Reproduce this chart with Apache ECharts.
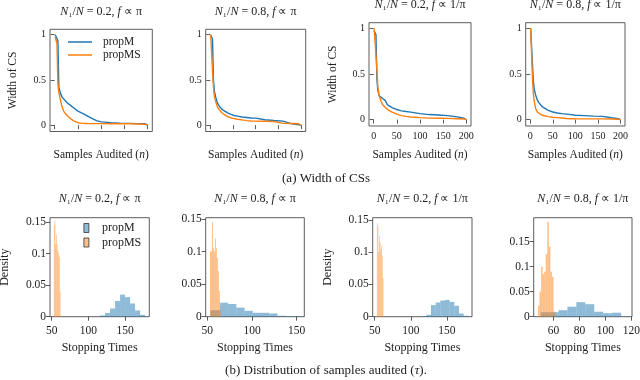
<!DOCTYPE html>
<html>
<head>
<meta charset="utf-8">
<script src="https://cdn.jsdelivr.net/npm/echarts@6/dist/echarts.min.js"></script>
<style>
html, body { margin: 0; padding: 0; background: #fff; }
#chart { width: 640px; height: 380px; }
</style>
</head>
<body>
<div id="chart"></div>
<script>
var nAudited = [1, 3, 5, 7, 9, 12, 16, 20, 25, 30, 40, 50, 60, 70, 80, 90, 100, 120, 140, 160, 180, 195, 200];

// width of CS, N1/N = 0.2, f ~ pi
var widthM_02_pi  = [1.0, 0.98, 0.96, 0.93, 0.42, 0.36, 0.31, 0.29, 0.26, 0.235, 0.195, 0.155, 0.13, 0.103, 0.075, 0.05, 0.036, 0.028, 0.022, 0.02, 0.017, 0.015, 0];
var widthMS_02_pi = [0.98, 0.96, 0.9, 0.45, 0.36, 0.29, 0.2, 0.15, 0.115, 0.09, 0.05, 0.027, 0.02, 0.018, 0.017, 0.017, 0.017, 0.016, 0.015, 0.015, 0.013, 0.01, 0];
// N1/N = 0.8, f ~ pi
var widthM_08_pi  = [1.0, 0.99, 0.95, 0.5, 0.38, 0.31, 0.24, 0.21, 0.18, 0.16, 0.13, 0.11, 0.1, 0.09, 0.085, 0.08, 0.078, 0.06, 0.052, 0.045, 0.015, 0.003, 0];
var widthMS_08_pi = [1.0, 0.98, 0.6, 0.42, 0.32, 0.26, 0.2, 0.17, 0.14, 0.12, 0.09, 0.075, 0.066, 0.058, 0.05, 0.046, 0.045, 0.044, 0.04, 0.02, 0.018, 0.015, 0];
// N1/N = 0.2, f ~ 1/pi
var widthM_02_inv  = [0.97, 0.96, 0.93, 0.45, 0.32, 0.26, 0.24, 0.228, 0.21, 0.16, 0.13, 0.11, 0.095, 0.088, 0.082, 0.074, 0.065, 0.055, 0.05, 0.044, 0.03, 0.015, 0];
var widthMS_02_inv = [1.0, 1.0, 0.98, 0.55, 0.36, 0.26, 0.2, 0.16, 0.135, 0.11, 0.081, 0.06, 0.044, 0.035, 0.028, 0.026, 0.022, 0.016, 0.015, 0.013, 0.01, 0.006, 0];
// N1/N = 0.8, f ~ 1/pi
var widthM_08_inv  = [1.0, 0.99, 0.6, 0.42, 0.33, 0.27, 0.21, 0.18, 0.15, 0.13, 0.1, 0.083, 0.072, 0.065, 0.06, 0.055, 0.048, 0.043, 0.038, 0.035, 0.02, 0.01, 0];
var widthMS_08_inv = [1.0, 0.98, 0.45, 0.28, 0.2, 0.12, 0.08, 0.065, 0.05, 0.045, 0.033, 0.026, 0.022, 0.018, 0.012, 0.01, 0.009, 0.008, 0.008, 0.008, 0.006, 0.004, 0];

// stopping time histograms: bin edges + density per bin
var binsM_02_pi  = [115.9, 122.7, 129.5, 136.4, 143.2, 150.0, 156.8, 163.6, 170.5, 177.3];
var densM_02_pi  = [0.002, 0.006, 0.013, 0.025, 0.035, 0.031, 0.021, 0.010, 0.003];
var binsMS_02_pi = [53, 54, 55, 56, 57, 58, 59, 60, 61, 62];
var densMS_02_pi = [0.145, 0.152, 0.115, 0.13, 0.115, 0.105, 0.1, 0.095, 0.04];

var binsM_08_pi  = [53.5, 64.1, 73.3, 82.5, 91.7, 100.9, 110.1, 119.3, 128.5, 137.7, 146.9, 156.1];
var densM_08_pi  = [0.01, 0.0215, 0.0195, 0.014, 0.009, 0.006, 0.006, 0.005, 0.0015, 0.001, 0.001];
var binsMS_08_pi = [53, 54.1, 55.2, 56.3, 57.4, 58.5, 59.6, 60.7, 61.8, 62.9, 64, 65.1];
var densMS_08_pi = [0.1, 0.1, 0.145, 0.105, 0.1, 0.12, 0.105, 0.09, 0.07, 0.04, 0.01];

var binsM_02_inv  = [115, 121.45, 127.9, 134.35, 140.8, 147.25, 153.7, 160.15, 166.6, 173.05, 179.5];
var densM_02_inv  = [0.001, 0.003, 0.018, 0.022, 0.025, 0.026, 0.023, 0.017, 0.005, 0.0015];
var binsMS_02_inv = [53, 54, 55, 56, 57, 58, 59, 60, 61, 62];
var densMS_02_inv = [0.145, 0.14, 0.1, 0.125, 0.115, 0.105, 0.11, 0.095, 0.06];

var binsM_08_inv  = [50, 56.9, 63.8, 70.7, 77.6, 84.5, 91.4, 98.3, 105.2, 112.1, 119];
var densM_08_inv  = [0.009, 0.009, 0.013, 0.02, 0.029, 0.025, 0.01, 0.007, 0.008, 0.001];
var binsMS_08_inv = [48, 49.2, 50.4, 51.6, 52.8, 54, 55.2, 56.4, 57.6, 58.8, 60, 61.2];
var densMS_08_inv = [0.022, 0.05, 0.1, 0.085, 0.09, 0.125, 0.19, 0.14, 0.09, 0.08, 0.01];

var FONT = 'Liberation Serif';
var INK = '#222';
var EDGE = '#333';
var BLUE = '#1f77b4', ORANGE = '#ff7f0e';
var BLUE_A = 'rgba(31,119,180,0.5)', ORANGE_A = 'rgba(255,127,14,0.5)';
var ital = { fontStyle: 'italic', fontFamily: FONT };

var mychart = document.getElementById('chart');
var gChart = echarts.init(mychart);

var grids = [], xAxes = [], yAxes = [], series = [], titles = [];

function addPanel(p) {
    var gi = grids.length;
    grids.push({
        left: p.box[0], top: p.box[1], width: p.box[2], height: p.box[3],
        show: true, borderColor: EDGE, borderWidth: 0.8, backgroundColor: 'transparent',
        containLabel: false, outerBoundsMode: 'none'
    });
    xAxes.push({
        gridIndex: gi, type: 'value', min: p.xr[0], max: p.xr[1],
        axisLine: { show: false }, splitLine: { show: false },
        axisTick: { show: true, length: 4, customValues: p.xt, lineStyle: { color: EDGE, width: 0.8 } },
        axisLabel: { show: p.xLabels, customValues: p.xt, margin: p.xMargin, fontFamily: FONT, fontSize: p.tickSize, color: INK },
        name: p.xName, nameLocation: 'middle', nameGap: p.xGap,
        nameTextStyle: { fontFamily: FONT, fontSize: p.nameSize, color: INK, rich: { i: ital } }
    });
    yAxes.push({
        gridIndex: gi, type: 'value', min: p.yr[0], max: p.yr[1],
        axisLine: { show: false }, splitLine: { show: false },
        axisTick: { show: true, length: 4, customValues: p.yt, lineStyle: { color: EDGE, width: 0.8 } },
        axisLabel: { customValues: p.yt, margin: 4, fontFamily: FONT, fontSize: p.tickSize, color: INK },
        name: p.yName || '', nameLocation: 'middle', nameGap: p.yGap,
        nameTextStyle: { fontFamily: FONT, fontSize: p.nameSize, color: INK }
    });
    titles.push({
        text: p.title, left: p.box[0] + p.box[2] / 2, top: p.titleTop, textAlign: 'center', padding: 0,
        textStyle: { fontFamily: FONT, fontSize: 12, fontWeight: 'normal', color: INK, rich: { i: ital } }
    });
    return gi;
}

function addLine(gi, name, vals, color) {
    series.push({
        type: 'line', name: name, xAxisIndex: gi, yAxisIndex: gi,
        data: nAudited.map(function (n, k) { return [n, vals[k]]; }),
        symbol: 'none', color: color, lineStyle: { width: 1.4, color: color },
        silent: true, animation: false
    });
}

function addHist(gi, name, edges, dens, fill) {
    series.push({
        type: 'custom', name: name, xAxisIndex: gi, yAxisIndex: gi,
        data: dens.map(function (h, k) { return [edges[k], edges[k + 1], h]; }),
        encode: { x: [0, 1], y: 2 },
        itemStyle: { color: fill },
        silent: true, animation: false,
        renderItem: function (params, api) {
            var a = api.coord([api.value(0), api.value(2)]);
            var b = api.coord([api.value(1), 0]);
            return { type: 'rect', shape: { x: a[0], y: a[1], width: b[0] - a[0], height: b[1] - a[1] }, style: { fill: fill } };
        }
    });
}

var xTop = [0, 50, 100, 150, 200];
var yTop = [0, 0.5, 1];
var yHist = [0, 0.05, 0.1, 0.15];
var topName = 'Samples Audited ({i|n})';

var topPanels = [
    { box: [50, 29.3, 102.3, 102.2], title: '{i|N}₁/{i|N} = 0.2, {i|f} ∝ π', m: widthM_02_pi, ms: widthMS_02_pi, xLabels: false, xGap: 17.5, yName: 'Width of CS', yGap: 31, titleTop: 5.5 },
    { box: [205.7, 29.3, 100, 102.2], title: '{i|N}₁/{i|N} = 0.8, {i|f} ∝ π', m: widthM_08_pi, ms: widthMS_08_pi, xLabels: false, xGap: 17.5, titleTop: 5.5 },
    { box: [369, 22.7, 102, 103.3], title: '{i|N}₁/{i|N} = 0.2, {i|f} ∝ 1/π', m: widthM_02_inv, ms: widthMS_02_inv, xLabels: true, xGap: 23, yName: 'Width of CS', yGap: 30, titleTop: -1 },
    { box: [525.7, 22.7, 99.3, 103.3], title: '{i|N}₁/{i|N} = 0.8, {i|f} ∝ 1/π', m: widthM_08_inv, ms: widthMS_08_inv, xLabels: true, xGap: 23, titleTop: -1 }
];
topPanels.forEach(function (p) {
    p.xr = [-10, 210]; p.yr = [-0.07, 1.06]; p.xt = xTop; p.yt = yTop;
    p.xName = topName; p.xMargin = 5; p.tickSize = 10; p.nameSize = 11.5;
    var gi = addPanel(p);
    addLine(gi, 'propM', p.m, BLUE);
    addLine(gi, 'propMS', p.ms, ORANGE);
});

var histPanels = [
    { box: [50, 217.7, 99.3, 99], xr: [47.7, 183], yr: [0, 0.157], xt: [50, 100, 150], title: '{i|N}₁/{i|N} = 0.2, {i|f} ∝ π', bm: binsM_02_pi, dm: densM_02_pi, bs: binsMS_02_pi, ds: densMS_02_pi, yName: 'Density' },
    { box: [205.7, 217.7, 98.6, 99], xr: [48.2, 158.5], yr: [0, 0.152], xt: [50, 100, 150], title: '{i|N}₁/{i|N} = 0.8, {i|f} ∝ π', bm: binsM_08_pi, dm: densM_08_pi, bs: binsMS_08_pi, ds: densMS_08_pi },
    { box: [372.7, 217.7, 99.3, 99], xr: [47.2, 184.6], yr: [0, 0.1536], xt: [50, 100, 150], title: '{i|N}₁/{i|N} = 0.2, {i|f} ∝ 1/π', bm: binsM_02_inv, dm: densM_02_inv, bs: binsMS_02_inv, ds: densMS_02_inv, yName: 'Density' },
    { box: [533.7, 217.7, 98.3, 99], xr: [44.7, 120.5], yr: [0, 0.198], xt: [60, 80, 100, 120], title: '{i|N}₁/{i|N} = 0.8, {i|f} ∝ 1/π', bm: binsM_08_inv, dm: densM_08_inv, bs: binsMS_08_inv, ds: densMS_08_inv }
];
histPanels.forEach(function (p) {
    p.yt = yHist; p.xLabels = true; p.xMargin = 8.5; p.xGap = 25; p.yGap = 39;
    p.xName = 'Stopping Times'; p.tickSize = 11.5; p.nameSize = 12; p.titleTop = 193;
    var gi = addPanel(p);
    addHist(gi, 'propM', p.bm, p.dm, BLUE_A);
    addHist(gi, 'propMS', p.bs, p.ds, ORANGE_A);
});

titles.push({
    text: '(a) Width of CSs', left: 326, top: 172, textAlign: 'center', padding: 0,
    textStyle: { fontFamily: FONT, fontSize: 13, fontWeight: 'normal', color: INK }
});
titles.push({
    text: '(b) Distribution of samples audited ({i|τ}).', left: 326, top: 364, textAlign: 'center', padding: 0,
    textStyle: { fontFamily: FONT, fontSize: 13, fontWeight: 'normal', color: INK, rich: { i: ital } }
});

var option = {
    animation: false,
    title: titles,
    legend: [
        {
            orient: 'vertical', left: 68, top: 36, padding: 0, itemWidth: 24, itemHeight: 1.5, itemGap: 1,
            selectedMode: false,
            data: [
                { name: 'propM', icon: 'rect', itemStyle: { color: BLUE, borderWidth: 0 } },
                { name: 'propMS', icon: 'rect', itemStyle: { color: ORANGE, borderWidth: 0 } }
            ],
            formatter: '{p| }{name}',
            textStyle: { fontFamily: FONT, fontSize: 11.5, color: INK, rich: { p: { width: 6 } } }
        },
        {
            orient: 'vertical', left: 83.5, top: 222, padding: 0, itemWidth: 5, itemHeight: 9, itemGap: 2.5,
            selectedMode: false,
            data: [
                { name: 'propM', icon: 'rect', itemStyle: { color: BLUE_A, borderColor: EDGE, borderWidth: 0.8 } },
                { name: 'propMS', icon: 'rect', itemStyle: { color: ORANGE_A, borderColor: EDGE, borderWidth: 0.8 } }
            ],
            formatter: '{p| }{name}',
            textStyle: { fontFamily: FONT, fontSize: 12, color: INK, rich: { p: { width: 8 } } }
        }
    ],
    grid: grids,
    xAxis: xAxes,
    yAxis: yAxes,
    series: series
};

gChart.setOption(option);
</script>
</body>
</html>
